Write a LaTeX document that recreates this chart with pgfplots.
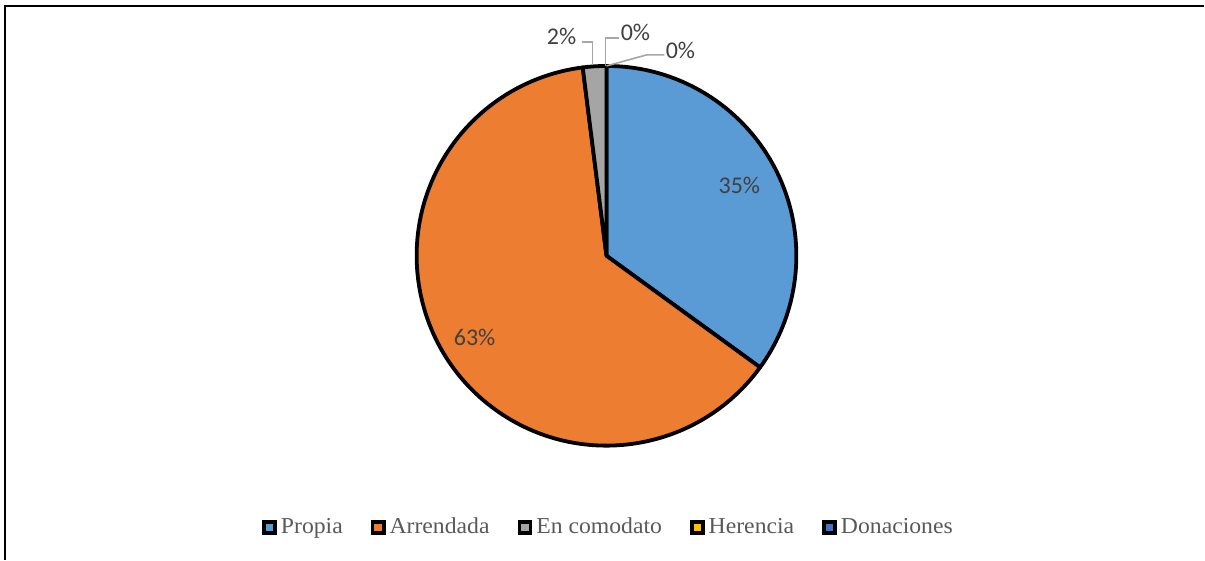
\documentclass[border=0pt]{standalone}
\usepackage{fontspec}
\setmainfont{Liberation Serif}
\newfontfamily\labelfont{Carlito}
\newfontfamily\legendfont[FakeStretch=1.04]{Liberation Serif}
\usepackage{pgfplots}
\usepackage{pgfplotstable}
\pgfplotsset{compat=1.18}

\definecolor{c0}{HTML}{5B9BD5}
\definecolor{c1}{HTML}{ED7D31}
\definecolor{c2}{HTML}{A5A5A5}
\definecolor{c3}{HTML}{FFC000}
\definecolor{c4}{HTML}{4472C4}
\definecolor{leader}{HTML}{A6A6A6}
\definecolor{lbl}{HTML}{404040}
\definecolor{legtext}{HTML}{595959}

% tenencia de la tierra, en %
\pgfplotstableread{
name value
Propia 35
Arrendada 63
Comodato 2
Herencia 0
Donaciones 0
}\piedata

\begin{document}
\begin{tikzpicture}
\begin{axis}[
    width=602.5pt, height=280pt,
    scale only axis,
    xmin=0, xmax=1205, ymin=0, ymax=560,
    hide axis,
    clip=false,
    legend columns=5,
    legend style={at={(axis cs:610,32)}, anchor=center, draw=none, fill=none,
        font=\fontsize{11.4}{13}\legendfont, text=legtext,
        inner sep=0pt,
        /tikz/every odd column/.append style={column sep=0pt},
        /tikz/every even column/.append style={column sep=12pt}},
    legend image code/.code={\draw[#1] (0pt,-2.8pt) rectangle (5.6pt,2.8pt);},
]
\path (axis cs:0,0) rectangle (axis cs:1205,560);
% marco
\draw[line width=1pt] (axis cs:5.5,0) -- (axis cs:5.5,554) -- (axis cs:1205,554);

% sectores
\pgfmathsetmacro{\angA}{90}
\pgfplotsforeachungrouped \i in {0,...,4}{%
  \pgfplotstablegetelem{\i}{value}\of\piedata
  \pgfmathsetmacro{\angB}{\angA - 3.6*\pgfplotsretval}
  \edef\temp{\noexpand\filldraw[fill=c\i, draw=black, line width=1.9pt, line join=round]
    (axis cs:607,304) -- ++(\angA:95pt) arc[start angle=\angA, end angle=\angB, radius=95pt] -- cycle;}
  \temp
  \let\angA\angB
}

% etiquetas de datos
\begin{scope}[font=\fontsize{12}{14}\labelfont, text=lbl]
\node at (axis cs:740,374) {35\%};
\node at (axis cs:475,222) {63\%};
\node at (axis cs:562,524) {2\%};
\node at (axis cs:636,528) {0\%};
\node at (axis cs:681,510) {0\%};
\end{scope}
\draw[leader, line width=0.8pt] (axis cs:582,518) -- (axis cs:593,518) -- (axis cs:593,495);
\draw[leader, line width=0.8pt] (axis cs:620,522) -- (axis cs:606,522) -- (axis cs:606,494);
\draw[leader, line width=0.8pt] (axis cs:665,505) -- (axis cs:647,505) -- (axis cs:607,494);

\addlegendimage{fill=c0, draw=black, line width=1.8pt}
\addlegendentry{Propia}
\addlegendimage{fill=c1, draw=black, line width=1.8pt}
\addlegendentry{Arrendada}
\addlegendimage{fill=c2, draw=black, line width=1.8pt}
\addlegendentry{En comodato}
\addlegendimage{fill=c3, draw=black, line width=1.8pt}
\addlegendentry{Herencia}
\addlegendimage{fill=c4, draw=black, line width=1.8pt}
\addlegendentry{Donaciones}
\end{axis}
\end{tikzpicture}
\end{document}
